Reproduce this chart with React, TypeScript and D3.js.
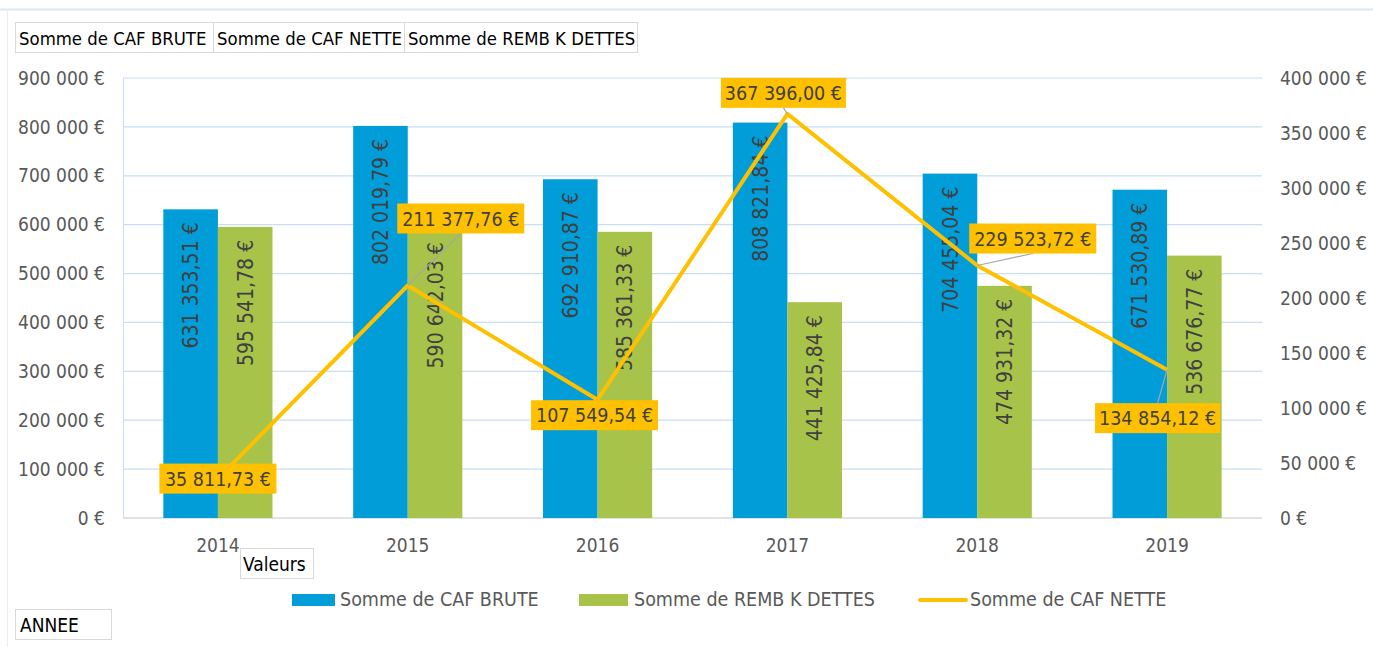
import React from "react";
import * as d3 from "d3";

const years = ["2014", "2015", "2016", "2017", "2018", "2019"];
const cafBrute = [631353.51, 802019.79, 692910.87, 808821.84, 704455.04, 671530.89];
const rembKDettes = [595541.78, 590642.03, 585361.33, 441425.84, 474931.32, 536676.77];
const cafNette = [35811.73, 211377.76, 107549.54, 367396.0, 229523.72, 134854.12];
const leftTicks = [0, 100000, 200000, 300000, 400000, 500000, 600000, 700000, 800000, 900000];
const rightTicks = [0, 50000, 100000, 150000, 200000, 250000, 300000, 350000, 400000];
const fieldButtons = ["Somme de CAF BRUTE", "Somme de CAF NETTE", "Somme de REMB K DETTES"];

// label box placement offsets (style only)
const lineLabelOffsets = [
  [0, 0],
  [53, -67],
  [-3, 15.5],
  [-4, -21],
  [55.5, -27],
  [-9.5, 48.5],
];

const W = 1373;
const H = 647;
const M = { left: 123, right: 1262, top: 78, bottom: 518 };
const FONT = "'DejaVu Sans Condensed', 'DejaVu Sans', sans-serif";
const BLUE = "#009DD9";
const GREEN = "#A7C34A";
const YELLOW = "#FFC000";
const AXIS_TXT = "#595959";
const LBL_TXT = "#404040";
const GRID = "#C6DFF7";

function fmtEuro(v: number, dec: boolean) {
  const parts = v.toFixed(dec ? 2 : 0).split(".");
  const int = parts[0].replace(/\B(?=(\d{3})+(?!\d))/g, " ");
  return dec ? `${int},${parts[1]} €` : `${int} €`;
}

export default function App() {
  const x = d3.scaleBand<string>().domain(years).range([M.left, M.right]).paddingInner(0.425).paddingOuter(0.2125);
  const xc = (y: string) => (x(y) as number) + x.bandwidth() / 2;
  const yL = d3.scaleLinear().domain([0, 900000]).range([M.bottom, M.top]);
  const yR = d3.scaleLinear().domain([0, 400000]).range([M.bottom, M.top]);
  const bw = x.bandwidth() / 2;

  const line = d3
    .line<number>()
    .x((_, i) => xc(years[i]))
    .y((d) => yR(d));

  const boxH = 30;
  const boxW = [117, 127, 127, 125, 127, 125];

  return (
    <svg width={W} height={H} style={{ position: "absolute", left: 0, top: 0, display: "block" }} fontFamily={FONT}>
      <rect x={0} y={0} width={W} height={H} fill="#fff" />
      <line x1={0} x2={W} y1={9.5} y2={9.5} stroke="#DCE8F2" strokeWidth={2} />
      <line x1={7.5} x2={7.5} y1={9} y2={H} stroke="#E8F0F7" strokeWidth={1} />

      {/* field buttons */}
      {(() => {
        let cx = 15;
        return fieldButtons.map((t, i) => {
          const w = [198, 191, 233][i];
          const el = (
            <g key={t}>
              <rect x={cx + 0.5} y={22.5} width={w} height={30} fill="#fff" stroke="#D9D9D9" />
              <text x={cx + 4} y={44.5} fontSize={18.4} fill="#000">{t}</text>
            </g>
          );
          cx += w;
          return el;
        });
      })()}

      {/* gridlines */}
      {leftTicks.map((t) => (
        <line key={t} x1={M.left} x2={M.right} y1={yL(t)} y2={yL(t)} stroke={t === 0 ? "#D9D9D9" : GRID} strokeWidth={t === 0 ? 1.5 : 1.2} />
      ))}
      <line x1={M.left + 0.5} x2={M.left + 0.5} y1={M.top} y2={M.bottom} stroke={GRID} strokeWidth={1} />

      {/* left axis labels */}
      {leftTicks.map((t) => (
        <text key={t} x={105} y={yL(t)} dy="0.35em" textAnchor="end" fontSize={19} fill={AXIS_TXT}>
          {fmtEuro(t, false)}
        </text>
      ))}
      {/* right axis labels */}
      {rightTicks.map((t) => (
        <text key={t} x={1280} y={yR(t)} dy="0.35em" textAnchor="start" fontSize={19} fill={AXIS_TXT}>
          {fmtEuro(t, false)}
        </text>
      ))}
      {/* x labels */}
      {years.map((yy) => (
        <text key={yy} x={xc(yy)} y={552} textAnchor="middle" fontSize={19} fill={AXIS_TXT}>
          {yy}
        </text>
      ))}

      {/* bars */}
      {years.map((yy, i) => (
        <g key={yy}>
          <rect x={x(yy)} y={yL(cafBrute[i])} width={bw} height={M.bottom - yL(cafBrute[i])} fill={BLUE} />
          <rect x={(x(yy) as number) + bw} y={yL(rembKDettes[i])} width={bw} height={M.bottom - yL(rembKDettes[i])} fill={GREEN} />
        </g>
      ))}

      {/* bar labels */}
      {years.map((yy, i) => {
        const bx1 = (x(yy) as number) + bw / 2;
        const by1 = yL(cafBrute[i]) + 13;
        const bx2 = (x(yy) as number) + bw * 1.5;
        const by2 = yL(rembKDettes[i]) + 13;
        return (
          <g key={yy}>
            <text transform={`translate(${bx1},${by1}) rotate(-90)`} textAnchor="end" dy="0.36em" fontSize={21} fill={LBL_TXT}>
              {fmtEuro(cafBrute[i], true)}
            </text>
            <text transform={`translate(${bx2},${by2}) rotate(-90)`} textAnchor="end" dy="0.36em" fontSize={21} fill={LBL_TXT}>
              {fmtEuro(rembKDettes[i], true)}
            </text>
          </g>
        );
      })}

      {/* line */}
      <path d={line(cafNette) as string} fill="none" stroke={YELLOW} strokeWidth={4} strokeLinejoin="round" />

      {/* line labels */}
      {years.map((yy, i) => {
        const px = xc(yy);
        const py = yR(cafNette[i]);
        const [dx, dy] = lineLabelOffsets[i];
        const label = fmtEuro(cafNette[i], true);
        const bwid = boxW[i];
        const cx = px + dx;
        const cy = py + dy;
        let leader: React.ReactNode = null;
        if (Math.abs(dy) > boxH / 2 + 4 || Math.abs(dx) > bwid / 2 + 4) {
          const ex = cx;
          const ey = dy < 0 ? cy + boxH / 2 : cy - boxH / 2;
          leader = <line x1={px} y1={py} x2={ex} y2={ey} stroke="#A6A6A6" strokeWidth={1.2} />;
        }
        return (
          <g key={yy}>
            {leader}
            <rect x={cx - bwid / 2} y={cy - boxH / 2} width={bwid} height={boxH} fill={YELLOW} />
            <text x={cx} y={cy} dy="0.36em" textAnchor="middle" fontSize={19.5} fill={LBL_TXT}>
              {label}
            </text>
          </g>
        );
      })}

      {/* Valeurs button */}
      <rect x={240.5} y={548.5} width={73} height={30} fill="#fff" stroke="#D9D9D9" />
      <text x={243} y={571} fontSize={19} fill="#000">Valeurs</text>

      {/* legend */}
      <rect x={292} y={594} width={43} height={12} fill={BLUE} />
      <text x={340} y={606} fontSize={19.5} fill={AXIS_TXT}>Somme de CAF BRUTE</text>
      <rect x={579} y={594} width={49} height={12} fill={GREEN} />
      <text x={634} y={606} fontSize={19.5} fill={AXIS_TXT}>Somme de REMB K DETTES</text>
      <line x1={920} x2={966} y1={600} y2={600} stroke={YELLOW} strokeWidth={4} strokeLinecap="round" />
      <text x={970} y={606} fontSize={19.5} fill={AXIS_TXT}>Somme de CAF NETTE</text>

      {/* ANNEE button */}
      <rect x={15.5} y={609.5} width={96} height={30} fill="#fff" stroke="#D9D9D9" />
      <text x={20} y={632} fontSize={19} fill="#000">ANNEE</text>
    </svg>
  );
}
